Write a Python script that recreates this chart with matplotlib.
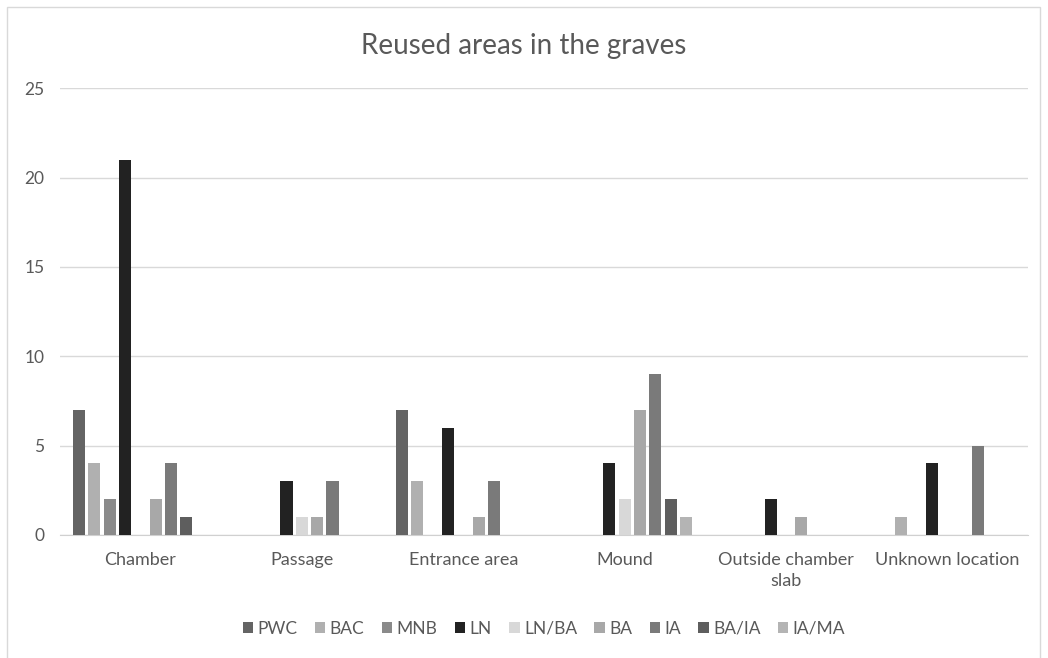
import numpy as np
import matplotlib.pyplot as plt
from matplotlib.patches import Rectangle

plt.rcParams['font.family'] = ['Lato', 'DejaVu Sans']

categories = ["Chamber", "Passage", "Entrance area", "Mound",
              "Outside chamber\nslab", "Unknown location"]
series = ["PWC", "BAC", "MNB", "LN", "LN/BA", "BA", "IA", "BA/IA", "IA/MA"]
colors = ["#646464", "#b0b0b0", "#8a8a8a", "#222222", "#d8d8d8",
          "#a8a8a8", "#7a7a7a", "#5e5e5e", "#b4b4b4"]

PWC = [7, 0, 7, 0, 0, 0]
BAC = [4, 0, 3, 0, 0, 1]
MNB = [2, 0, 0, 0, 0, 0]
LN = [21, 3, 6, 4, 2, 4]
LN_BA = [0, 1, 0, 2, 0, 0]
BA = [2, 1, 1, 7, 1, 0]
IA = [4, 3, 3, 9, 0, 5]
BA_IA = [1, 0, 0, 2, 0, 0]
IA_MA = [0, 0, 0, 1, 0, 0]
values = [PWC, BAC, MNB, LN, LN_BA, BA, IA, BA_IA, IA_MA]

fig = plt.figure(figsize=(10.48, 6.58), dpi=100)
ax = fig.add_axes([0.057, 0.187, 0.924, 0.679])

x = np.arange(len(categories)) + 0.5
pitch = 15.3 / 161
width = 12 / 161
for j, (name, vals, c) in enumerate(zip(series, values, colors)):
    ax.bar(x + (j - 4) * pitch, vals, width, color=c, label=name, zorder=3)

ax.set_xlim(0, 6)
ax.set_ylim(0, 25)
ax.set_yticks(range(0, 26, 5))
ax.set_xticks(x)
ax.set_xticklabels(categories, fontsize=13, color="#595959", linespacing=1.45)
ax.tick_params(axis='y', labelsize=12.5, labelcolor="#595959", length=0, pad=11)
ax.tick_params(axis='x', length=0, pad=12)
ax.grid(axis='y', color="#d9d9d9", linewidth=1, zorder=0)
for s in ["top", "right", "left"]:
    ax.spines[s].set_visible(False)
ax.spines["bottom"].set_color("#d0d0d0")

fig.text(0.5, 0.93, "Reused areas in the graves", ha="center", va="center",
         fontsize=20, color="#595959")

leg = ax.legend(loc="center", bbox_to_anchor=(0.5, -0.21), ncol=9,
                frameon=False, fontsize=12.5, handlelength=0.6, handleheight=0.6,
                handletextpad=0.25, columnspacing=1.0)
for t in leg.get_texts():
    t.set_color("#595959")

fig.patches.append(Rectangle((0.007, -0.01), 0.985, 0.999, transform=fig.transFigure,
                             fill=False, edgecolor="#d9d9d9", linewidth=1))

fig.savefig("out.png", dpi=100)
